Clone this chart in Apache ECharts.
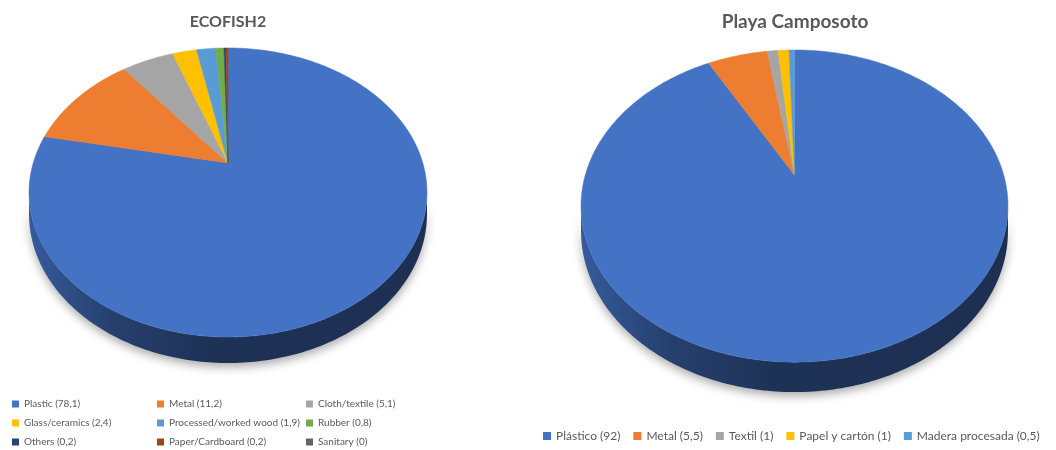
<!DOCTYPE html>
<html><head><meta charset="utf-8">
<script src="https://cdn.jsdelivr.net/npm/echarts@6/dist/echarts.min.js"></script>
<style>html,body{margin:0;padding:0;background:#fff}#c{width:1056px;height:450px}</style>
</head><body><div id="c"></div>
<script>
// ---- data ----
const leftTitle = 'ECOFISH2';
const leftCategories = ['Plastic', 'Metal', 'Cloth/textile', 'Glass/ceramics', 'Processed/worked wood', 'Rubber', 'Others', 'Paper/Cardboard', 'Sanitary'];
const leftValues = [78.1, 11.2, 5.1, 2.4, 1.9, 0.8, 0.2, 0.2, 0];
const leftColors = ['#4472C4', '#ED7D31', '#A5A5A5', '#FFC000', '#5B9BD5', '#70AD47', '#264478', '#9E480E', '#636363'];

const rightTitle = 'Playa Camposoto';
const rightCategories = ['Plástico', 'Metal', 'Textil', 'Papel y cartón', 'Madera procesada'];
const rightValues = [92, 5.5, 1, 1, 0.5];
const rightColors = ['#4472C4', '#ED7D31', '#A5A5A5', '#FFC000', '#5B9BD5'];

// legend column layout for the left chart (indices into leftCategories)
const leftLegendColumns = [[0, 3, 6], [1, 4, 7], [2, 5, 8]];

function fmtNum(v) { return String(v).replace('.', ','); }
function label(name, v) { return name + ' (' + fmtNum(v) + ')'; }

// ---- geometry (perspective tilted pie) ----
const leftGeom = { cx: 228, cy: 163, A: 194.8, B: 138.5, p: 0.204, D: 20.7 };
const rightGeom = { cx: 794.5, cy: 175, A: 209.2, B: 149.9, p: 0.199, D: 24 };

function proj(G, t, down) {
  const u = Math.sin(t), v = -Math.cos(t);
  const w = 1 - G.p * v;
  return [G.cx + G.A * u / w, G.cy + G.B * v / w + (down ? G.D / w : 0)];
}

function darken(hex, f) {
  const n = parseInt(hex.slice(1), 16);
  const r = Math.round(((n >> 16) & 255) * f), g = Math.round(((n >> 8) & 255) * f), b = Math.round((n & 255) * f);
  return 'rgb(' + r + ',' + g + ',' + b + ')';
}

function makeSeries(cats, values, colors, G) {
  const total = values.reduce((a, b) => a + b, 0);
  const TWO = Math.PI * 2;
  const frontA = Math.acos(-G.p), frontB = TWO - Math.acos(-G.p);
  return cats.map((c, idx) => ({
    type: 'custom',
    name: label(c, values[idx]),
    coordinateSystem: 'none',
    silent: true,
    itemStyle: { color: colors[idx] },
    data: [values[idx]],
    renderItem: function (params, api) {
      const val = api.value(0);
      let start = 0;
      for (let i = 0; i < idx; i++) start += values[i];
      const a0 = start / total * TWO, a1 = (start + val) / total * TWO;
      const children = [];
      // side wall (front visible part only)
      const s0 = Math.max(a0, frontA), s1 = Math.min(a1, frontB);
      if (s1 > s0) {
        const n = Math.max(2, Math.ceil((s1 - s0) / TWO * 400));
        const pts = [];
        for (let k = 0; k <= n; k++) pts.push(proj(G, s0 + (s1 - s0) * k / n, false));
        for (let k = n; k >= 0; k--) pts.push(proj(G, s0 + (s1 - s0) * k / n, true));
        const base = colors[idx];
        children.push({
          type: 'polygon', z2: 0,
          shape: { points: pts },
          style: {
            fill: {
              type: 'linear', global: true, x: G.cx - G.A, y: 0, x2: G.cx + G.A, y2: 0,
              colorStops: [
                { offset: 0, color: darken(base, 0.78) },
                { offset: 0.2, color: darken(base, 0.56) },
                { offset: 0.45, color: darken(base, 0.44) },
                { offset: 1, color: darken(base, 0.42) }
              ]
            },
            shadowBlur: 10, shadowColor: 'rgba(0,0,0,0.33)', shadowOffsetY: 4
          }
        });
      }
      if (a1 > a0) {
        const n = Math.max(2, Math.ceil((a1 - a0) / TWO * 400));
        const pts = [[G.cx, G.cy]];
        for (let k = 0; k <= n; k++) pts.push(proj(G, a0 + (a1 - a0) * k / n, false));
        children.push({
          type: 'polygon', z2: 10,
          shape: { points: pts },
          style: { fill: colors[idx], stroke: colors[idx], lineWidth: 0.5 }
        });
      }
      return { type: 'group', children: children };
    }
  }));
}

const FONT = 'Lato, "Open Sans", sans-serif';
const legendText = { color: '#595959', fontFamily: FONT, fontSize: 10, lineHeight: 12 };

const leftLegends = leftLegendColumns.map((col, ci) => ({
  orient: 'vertical',
  left: [12, 157, 306][ci],
  top: 398,
  padding: 0,
  itemGap: 7,
  itemWidth: 7, itemHeight: 7,
  icon: 'rect',
  selectedMode: false,
  textStyle: legendText,
  data: col.map(i => label(leftCategories[i], leftValues[i]))
}));

const rightLegend = {
  orient: 'horizontal',
  left: 543,
  top: 429,
  padding: 0,
  itemGap: 13,
  itemWidth: 8, itemHeight: 8,
  icon: 'rect',
  selectedMode: false,
  textStyle: { color: '#595959', fontFamily: FONT, fontSize: 12, lineHeight: 14 },
  data: rightCategories.map((c, i) => label(c, rightValues[i]))
};

const chart = echarts.init(document.getElementById('c'), null, { renderer: 'canvas' });
chart.setOption({
  animation: false,
  backgroundColor: '#fff',
  legend: leftLegends.concat([rightLegend]),
  graphic: [
    { type: 'text', x: 228, y: 22, style: { text: leftTitle, align: 'center', verticalAlign: 'middle', font: 'bold 16px ' + FONT, fill: '#595959' } },
    { type: 'text', x: 795, y: 22, style: { text: rightTitle, align: 'center', verticalAlign: 'middle', font: 'bold 19px ' + FONT, fill: '#595959' } }
  ],
  series: makeSeries(leftCategories, leftValues, leftColors, leftGeom)
    .concat(makeSeries(rightCategories, rightValues, rightColors, rightGeom))
});
</script>
</body></html>
